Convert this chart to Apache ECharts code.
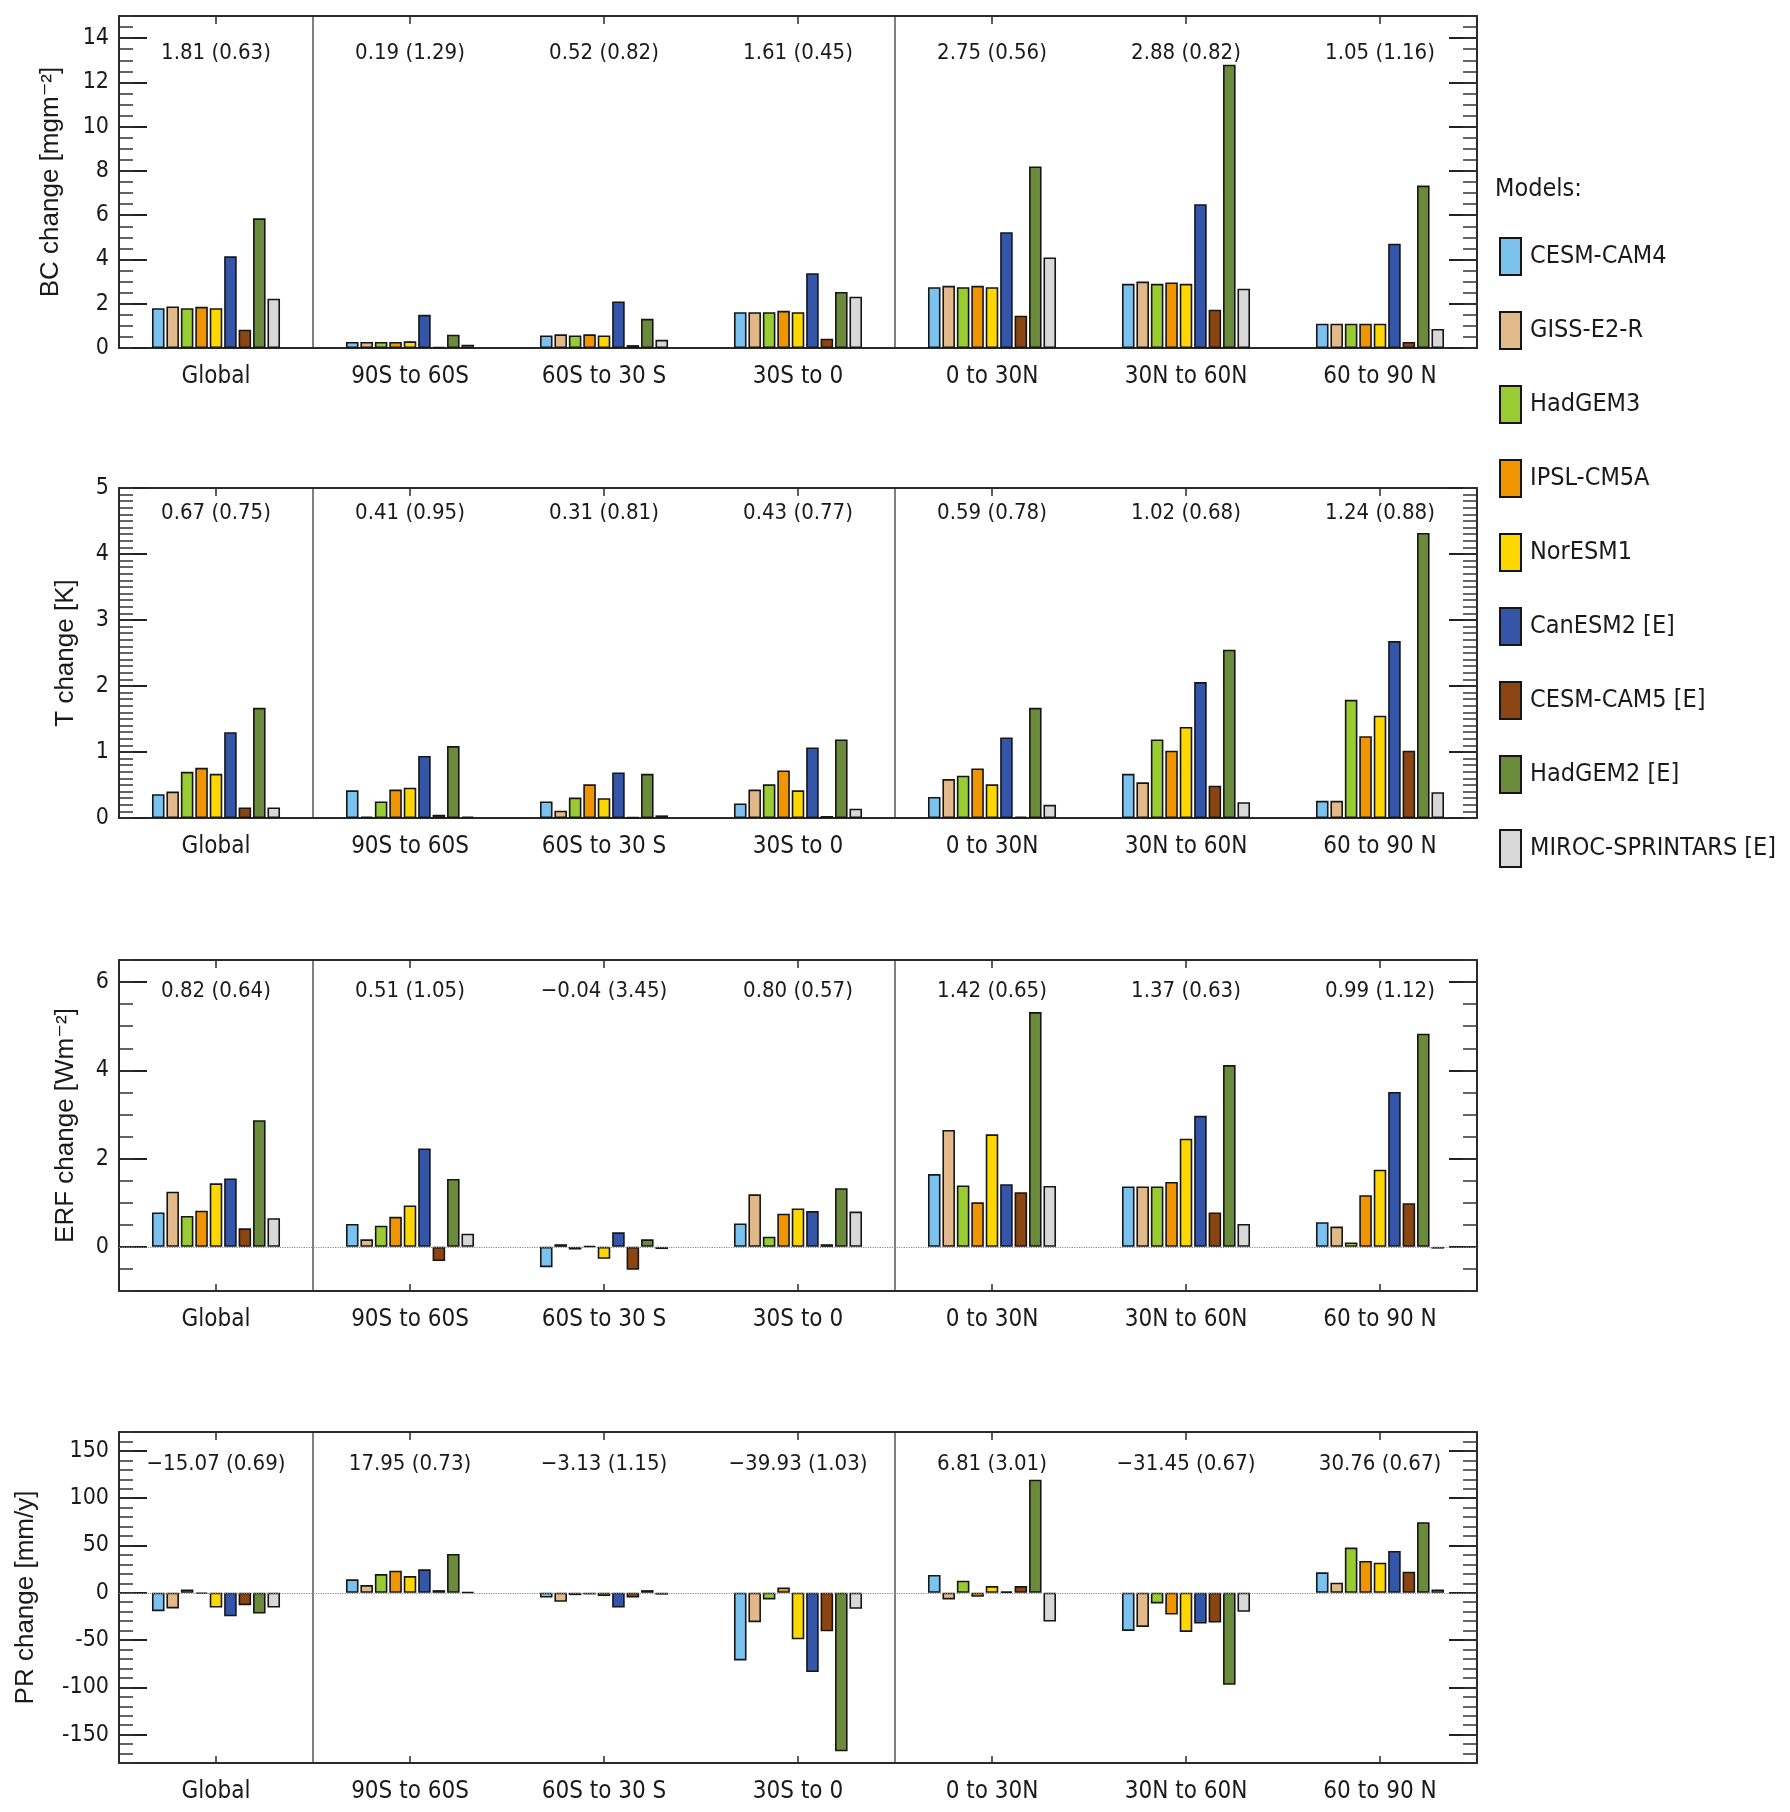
<!DOCTYPE html>
<html>
<head>
<meta charset="utf-8">
<script src="https://cdn.jsdelivr.net/npm/echarts@6/dist/echarts.min.js"></script>
<style>
  html, body { margin: 0; padding: 0; background: #fff; }
  #chart { width: 1790px; height: 1812px; }
</style>
</head>
<body>
<div id="chart"></div>
<script>
// ---------------- DATA ----------------
const CATEGORIES = ['Global', '90S to 60S', '60S to 30 S', '30S to 0', '0 to 30N', '30N to 60N', '60 to 90 N'];
const MODELS = ['CESM-CAM4', 'GISS-E2-R', 'HadGEM3', 'IPSL-CM5A', 'NorESM1', 'CanESM2 [E]', 'CESM-CAM5 [E]', 'HadGEM2 [E]', 'MIROC-SPRINTARS [E]'];
const MODEL_COLORS = ['#7BC2EE', '#E1B98A', '#99CC33', '#F09400', '#FFD700', '#3556A8', '#8B4513', '#6A8B3A', '#D8D8D8'];

// values per model (rows) x region (columns)
const BC_CHANGE = [
  [1.80, 0.27, 0.57, 1.62, 2.75, 2.90, 1.10],
  [1.88, 0.27, 0.62, 1.62, 2.81, 3.00, 1.10],
  [1.80, 0.27, 0.57, 1.62, 2.75, 2.90, 1.10],
  [1.86, 0.27, 0.62, 1.68, 2.81, 2.96, 1.10],
  [1.80, 0.30, 0.57, 1.62, 2.75, 2.90, 1.10],
  [4.14, 1.50, 2.10, 3.38, 5.23, 6.50, 4.71],
  [0.83, 0.05, 0.13, 0.42, 1.46, 1.73, 0.27],
  [5.86, 0.60, 1.32, 2.53, 8.20, 12.80, 7.34],
  [2.23, 0.15, 0.37, 2.32, 4.09, 2.68, 0.86]
];
const T_CHANGE = [
  [0.36, 0.42, 0.25, 0.22, 0.32, 0.67, 0.26],
  [0.40, 0.02, 0.11, 0.43, 0.59, 0.54, 0.26],
  [0.70, 0.25, 0.31, 0.51, 0.64, 1.19, 1.79],
  [0.76, 0.43, 0.51, 0.72, 0.75, 1.02, 1.24],
  [0.67, 0.46, 0.30, 0.42, 0.51, 1.38, 1.55],
  [1.30, 0.94, 0.69, 1.07, 1.22, 2.06, 2.68],
  [0.16, 0.05, 0.01, 0.03, 0.02, 0.49, 1.02],
  [1.67, 1.09, 0.67, 1.19, 1.67, 2.55, 4.32],
  [0.16, 0.02, 0.04, 0.14, 0.20, 0.24, 0.39]
];
const ERF_CHANGE = [
  [0.78, 0.52, -0.46, 0.53, 1.65, 1.37, 0.56],
  [1.25, 0.17, 0.06, 1.19, 2.65, 1.37, 0.46],
  [0.70, 0.48, -0.06, 0.23, 1.39, 1.37, 0.10],
  [0.82, 0.68, 0.02, 0.75, 1.01, 1.47, 1.17],
  [1.44, 0.94, -0.27, 0.87, 2.55, 2.45, 1.75],
  [1.55, 2.23, 0.33, 0.81, 1.42, 2.97, 3.51],
  [0.42, -0.32, -0.52, 0.06, 1.24, 0.78, 0.99],
  [2.87, 1.54, 0.17, 1.33, 5.32, 4.12, 4.83],
  [0.65, 0.30, -0.05, 0.80, 1.38, 0.52, -0.04]
];
const PR_CHANGE = [
  [-19.5, 14.2, -5.0, -71.5, 18.8, -40.3, 21.6],
  [-16.6, 8.1, -9.5, -31.1, -7.0, -36.1, 10.6],
  [3.5, 19.8, -2.5, -7.0, 12.7, -11.3, 47.8],
  [-1.0, 23.4, -1.8, 5.7, -4.2, -23.0, 33.6],
  [-15.6, 17.7, -3.5, -49.2, 7.1, -41.4, 31.8],
  [-24.8, 24.8, -15.6, -83.9, 1.4, -32.6, 44.2],
  [-13.1, 2.8, -5.0, -40.7, 7.1, -31.5, 22.3],
  [-21.9, 41.0, 2.8, -167.7, 119.6, -97.3, 74.7],
  [-15.6, 0.7, -2.0, -17.0, -30.4, -20.2, 3.5]
];

// multi-model mean (ratio) annotations
const BC_STATS = ['1.81 (0.63)', '0.19 (1.29)', '0.52 (0.82)', '1.61 (0.45)', '2.75 (0.56)', '2.88 (0.82)', '1.05 (1.16)'];
const T_STATS = ['0.67 (0.75)', '0.41 (0.95)', '0.31 (0.81)', '0.43 (0.77)', '0.59 (0.78)', '1.02 (0.68)', '1.24 (0.88)'];
const ERF_STATS = ['0.82 (0.64)', '0.51 (1.05)', '\u22120.04 (3.45)', '0.80 (0.57)', '1.42 (0.65)', '1.37 (0.63)', '0.99 (1.12)'];
const PR_STATS = ['\u221215.07 (0.69)', '17.95 (0.73)', '\u22123.13 (1.15)', '\u221239.93 (1.03)', '6.81 (3.01)', '\u221231.45 (0.67)', '30.76 (0.67)'];

// tick labels
const BC_TICKS = [0, 2, 4, 6, 8, 10, 12, 14];
const T_TICKS = [0, 1, 2, 3, 4, 5];
const ERF_TICKS = [0, 2, 4, 6];
const PR_TICKS = [-150, -100, -50, 0, 50, 100, 150];

const AXIS_NAMES = ['BC change [mgm\u207B\u00B2]', 'T change [K]', 'ERF change [Wm\u207B\u00B2]', 'PR change [mm/y]'];

// ---------------- LAYOUT / STYLE ----------------
const NARROW = '"DejaVu Sans Condensed", "Liberation Sans Narrow", sans-serif';
const SANS = '"Liberation Sans", Arial, "DejaVu Sans", sans-serif';
const FRAME = { color: '#2a2a2a', width: 2 };

const panels = [
  { values: BC_CHANGE, stats: BC_STATS, ticks: BC_TICKS, min: 0, max: 15, minor: 0.5, top: 16, height: 332, nameGap: 55, statMargin: 26, zero: false },
  { values: T_CHANGE, stats: T_STATS, ticks: T_TICKS, min: 0, max: 5, minor: 0.1, top: 488, height: 330, nameGap: 40, statMargin: 14, zero: false },
  { values: ERF_CHANGE, stats: ERF_STATS, ticks: ERF_TICKS, min: -1, max: 6.5, minor: 0.5, top: 960, height: 331, nameGap: 40, statMargin: 20, zero: true },
  { values: PR_CHANGE, stats: PR_STATS, ticks: PR_TICKS, min: -180, max: 170, minor: 10, top: 1432, height: 331, nameGap: 80, statMargin: 21, zero: true }
];

const grid = [], xAxis = [], yAxis = [], series = [];

panels.forEach((p, g) => {
  grid.push({ left: 119, right: 313, top: p.top, height: p.height, containLabel: false });

  // bottom category axis
  xAxis.push({
    type: 'category', gridIndex: g, position: 'bottom', data: CATEGORIES, boundaryGap: true,
    axisLine: { show: true, onZero: false, lineStyle: FRAME },
    axisTick: { show: true, inside: true, alignWithLabel: true, length: 7, lineStyle: { color: '#2a2a2a', width: 1.5 } },
    axisLabel: { interval: 0, margin: 17, fontSize: 24, fontFamily: NARROW, color: '#1a1a1a' },
    splitLine: { show: false }
  });
  // top axis: annotations + separators
  xAxis.push({
    type: 'category', gridIndex: g, position: 'top', data: p.stats, boundaryGap: true,
    axisLine: { show: true, onZero: false, lineStyle: FRAME },
    axisTick: { show: true, inside: true, alignWithLabel: true, length: 8, lineStyle: { color: '#2a2a2a', width: 1.5 } },
    axisLabel: { inside: true, interval: 0, margin: p.statMargin, fontSize: 22, fontFamily: NARROW, color: '#1a1a1a' },
    splitLine: { show: true, interval: (i) => i === 1 || i === 4, lineStyle: { color: '#555', width: 1.5, type: 'solid' } }
  });

  // left major axis (labels + name)
  yAxis.push({
    type: 'value', gridIndex: g, position: 'left', min: p.min, max: p.max,
    name: AXIS_NAMES[g], nameLocation: 'middle', nameGap: p.nameGap, nameRotate: 90,
    nameTextStyle: { fontSize: 26, fontFamily: SANS, color: '#1a1a1a' },
    axisLine: { show: true, onZero: false, lineStyle: FRAME },
    axisTick: { show: true, inside: true, length: 28, customValues: p.ticks, lineStyle: { color: '#222', width: 2 } },
    axisLabel: { show: true, customValues: p.ticks, margin: 10, fontSize: 23, fontFamily: NARROW, color: '#1a1a1a' },
    splitLine: { show: false }
  });
  // left minor ticks
  yAxis.push({
    type: 'value', gridIndex: g, position: 'left', min: p.min, max: p.max, interval: p.minor,
    axisLine: { show: false },
    axisTick: { show: true, inside: true, length: 14, lineStyle: { color: '#333', width: 1.5 } },
    axisLabel: { show: false }, splitLine: { show: false }
  });
  // right major ticks
  yAxis.push({
    type: 'value', gridIndex: g, position: 'right', min: p.min, max: p.max,
    axisLine: { show: true, onZero: false, lineStyle: FRAME },
    axisTick: { show: true, inside: true, length: 28, customValues: p.ticks, lineStyle: { color: '#222', width: 2 } },
    axisLabel: { show: false }, splitLine: { show: false }
  });
  // right minor ticks
  yAxis.push({
    type: 'value', gridIndex: g, position: 'right', min: p.min, max: p.max, interval: p.minor,
    axisLine: { show: false },
    axisTick: { show: true, inside: true, length: 14, lineStyle: { color: '#333', width: 1.5 } },
    axisLabel: { show: false }, splitLine: { show: false }
  });

  MODELS.forEach((m, k) => {
    const s = {
      type: 'bar', name: m, xAxisIndex: 2 * g, yAxisIndex: 4 * g,
      data: p.values[k],
      barCategoryGap: '34%', barGap: '15%',
      itemStyle: { color: MODEL_COLORS[k], borderColor: '#161616', borderWidth: 1.6 },
      emphasis: { disabled: true },
      animation: false
    };
    if (k === 0 && p.zero) {
      s.markLine = {
        silent: true, symbol: ['none', 'none'], label: { show: false },
        lineStyle: { type: 'dotted', color: '#8a8a8a', width: 1.2 },
        data: [{ yAxis: 0 }]
      };
    }
    series.push(s);
  });
});

const chart = echarts.init(document.getElementById('chart'), null, { renderer: 'canvas' });
chart.setOption({
  backgroundColor: '#ffffff',
  animation: false,
  title: {
    text: 'Models:', left: 1490, top: 172,
    textStyle: { fontSize: 25, fontWeight: 'normal', fontFamily: NARROW, color: '#1a1a1a' }
  },
  legend: {
    data: MODELS, orient: 'vertical', left: 1494, top: 232,
    icon: 'rect', itemWidth: 21, itemHeight: 37, itemGap: 35,
    selectedMode: false,
    textStyle: { fontSize: 25, fontFamily: NARROW, color: '#1a1a1a', padding: [0, 0, 10, 4] }
  },
  grid, xAxis, yAxis, series
});
</script>
</body>
</html>
